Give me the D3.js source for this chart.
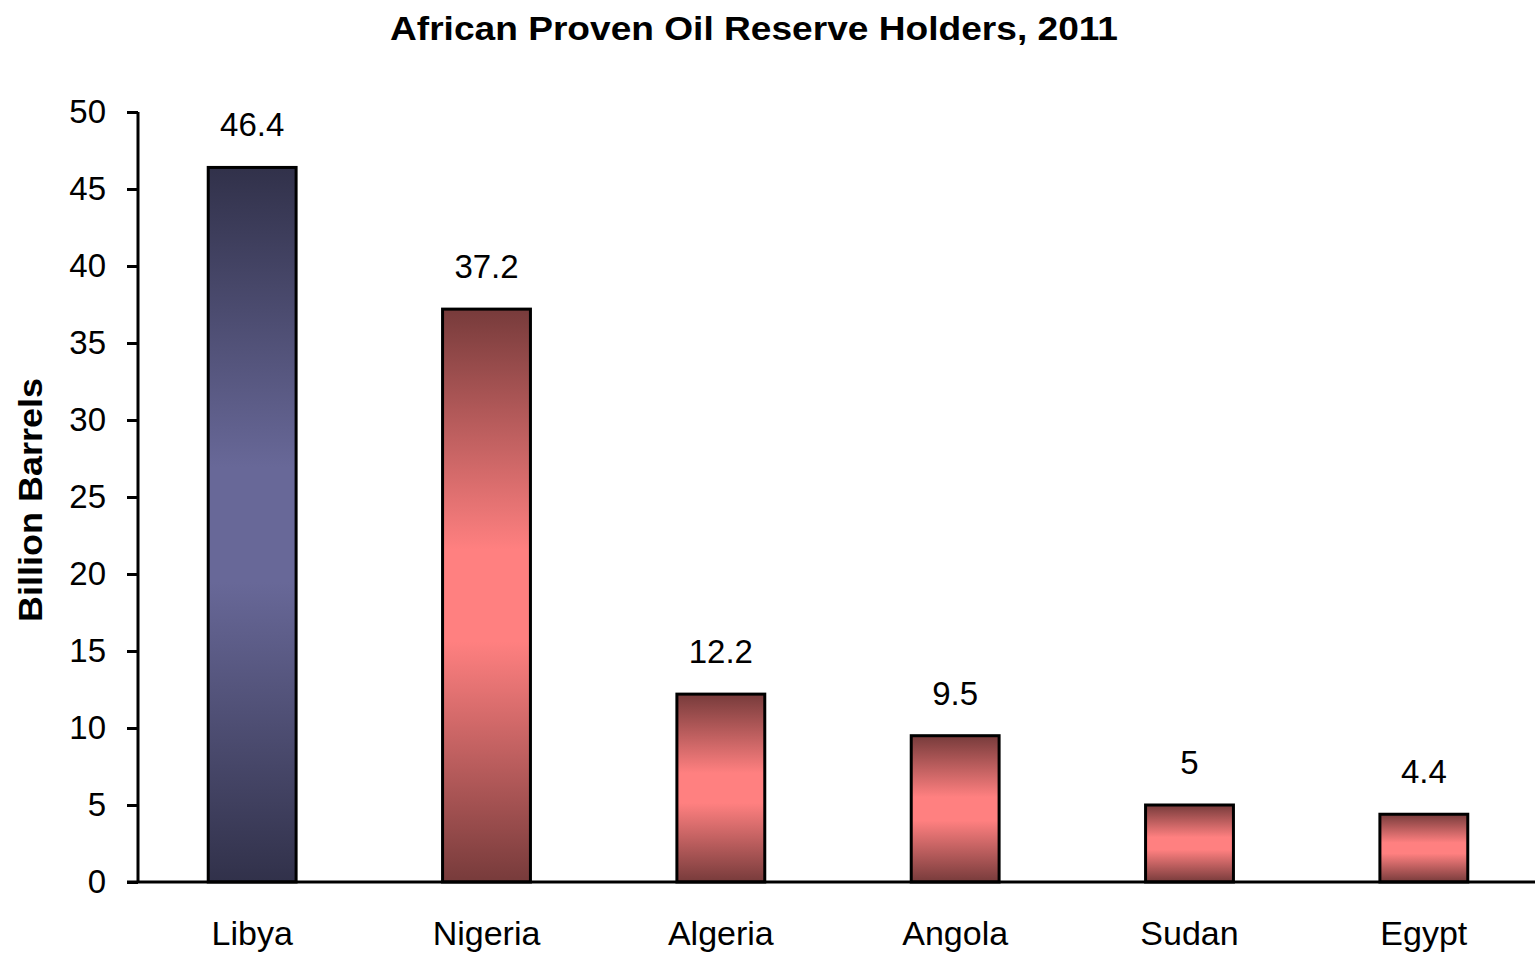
<!DOCTYPE html>
<html>
<head>
<meta charset="utf-8">
<script src="https://cdnjs.cloudflare.com/ajax/libs/d3/7.8.5/d3.min.js"></script>
<style>
    body { margin: 0; background: #fff; }
    svg { display: block; font-family: "Liberation Sans", Arial, sans-serif; }
</style>
</head>
<body>
<svg id="chart"></svg>
<script>
var countries = ["Libya", "Nigeria", "Algeria", "Angola", "Sudan", "Egypt"]
var reserves = [46.4, 37.2, 12.2, 9.5, 5, 4.4]
var yTicks = [0, 5, 10, 15, 20, 25, 30, 35, 40, 45, 50]
var barColors = [
    ["#31314a", "#686898"],
    ["#773b3b", "#ff8080"],
    ["#773b3b", "#ff8080"],
    ["#773b3b", "#ff8080"],
    ["#773b3b", "#ff8080"],
    ["#773b3b", "#ff8080"]
]

var W = 1535, H = 953
var margin = {top: 112, left: 138, bottom: 71}
var plotBottom = H - margin.bottom

var data = countries.map(function (c, i) {
    return {country: c, value: reserves[i], colors: barColors[i]}
})

var svg = d3.select("#chart").attr("width", W).attr("height", H)

var xScale = d3.scaleBand()
    .domain(countries)
    .range([135, 1541])
    .paddingInner(0.625)
    .paddingOuter(0.3125)

var yScale = d3.scaleLinear().domain([0, 50]).range([plotBottom, margin.top])

// gradients, dark at both ends and light in the middle
var defs = svg.append("defs")
data.forEach(function (d, i) {
    var g = defs.append("linearGradient")
        .attr("id", "grad" + i)
        .attr("x1", 0).attr("y1", 0).attr("x2", 0).attr("y2", 1)
    g.append("stop").attr("offset", "0%").attr("stop-color", d.colors[0])
    g.append("stop").attr("offset", "42%").attr("stop-color", d.colors[1])
    g.append("stop").attr("offset", "58%").attr("stop-color", d.colors[1])
    g.append("stop").attr("offset", "100%").attr("stop-color", d.colors[0])
})

// title
svg.append("text")
    .attr("x", 754)
    .attr("y", 40)
    .attr("text-anchor", "middle")
    .attr("font-size", "33px")
    .attr("font-weight", "bold")
    .attr("textLength", 728)
    .attr("lengthAdjust", "spacingAndGlyphs")
    .text("African Proven Oil Reserve Holders, 2011")

// y axis
var yAxis = svg.append("g")
    .attr("transform", "translate(" + margin.left + ",0)")
    .call(d3.axisLeft(yScale).tickValues(yTicks).tickSize(11).tickPadding(21))
yAxis.select(".domain").attr("stroke", "#000").attr("stroke-width", 3)
    .attr("d", "M0," + yScale(50) + "V" + plotBottom)
yAxis.selectAll(".tick line").attr("stroke", "#000").attr("stroke-width", 3)
yAxis.selectAll(".tick text")
    .attr("font-family", "Liberation Sans, Arial, sans-serif")
    .attr("font-size", "33px")
    .attr("fill", "#000")

svg.append("text")
    .attr("transform", "translate(42," + 500 + ") rotate(-90)")
    .attr("text-anchor", "middle")
    .attr("font-size", "33px")
    .attr("font-weight", "bold")
    .attr("textLength", 244)
    .attr("lengthAdjust", "spacingAndGlyphs")
    .text("Billion Barrels")

// bars
svg.selectAll("rect.bar")
    .data(data)
    .enter().append("rect")
    .attr("class", "bar")
    .attr("x", function (d) { return xScale(d.country); })
    .attr("y", function (d) { return yScale(d.value); })
    .attr("width", xScale.bandwidth())
    .attr("height", function (d) { return yScale(0) - yScale(d.value); })
    .attr("fill", function (d, i) { return "url(#grad" + i + ")"; })
    .attr("stroke", "#000")
    .attr("stroke-width", 3)

// value labels
svg.selectAll("text.val")
    .data(data)
    .enter().append("text")
    .attr("class", "val")
    .attr("x", function (d) { return xScale(d.country) + xScale.bandwidth() / 2; })
    .attr("y", function (d) { return yScale(d.value) - 31; })
    .attr("text-anchor", "middle")
    .attr("font-size", "33px")
    .text(function (d) { return d.value; })

// x axis
var xAxis = svg.append("g")
    .attr("transform", "translate(0," + plotBottom + ")")
    .call(d3.axisBottom(xScale).tickSize(0).tickPadding(39))
xAxis.select(".domain").remove()
xAxis.selectAll(".tick text")
    .attr("font-family", "Liberation Sans, Arial, sans-serif")
    .attr("font-size", "34px")
    .attr("fill", "#000")
svg.append("line")
    .attr("x1", margin.left - 11).attr("x2", W)
    .attr("y1", plotBottom).attr("y2", plotBottom)
    .attr("stroke", "#000").attr("stroke-width", 3)
</script>
</body>
</html>
